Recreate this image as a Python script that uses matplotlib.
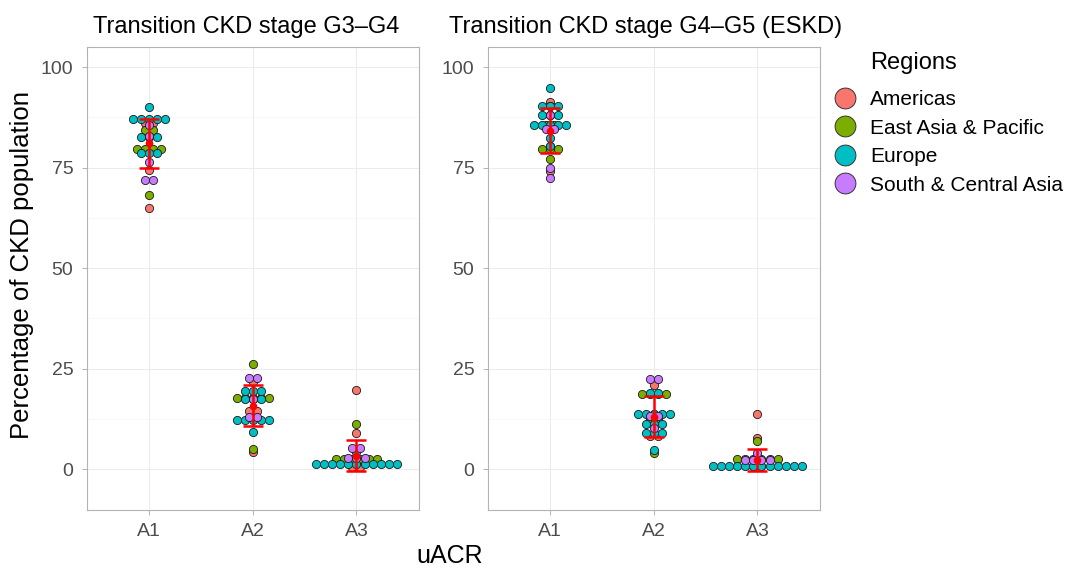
import numpy as np
import matplotlib
matplotlib.use("Agg")
import matplotlib.pyplot as plt
from matplotlib.lines import Line2D
from collections import Counter

plt.rcParams['font.family'] = ['Liberation Sans', 'DejaVu Sans']

# ---------------- data ----------------
regions = ["Americas", "East Asia & Pacific", "Europe", "South & Central Asia"]
region_colors = ["#F8766D", "#7CAE00", "#00BFC4", "#C77CFF"]
uacr = ["A1", "A2", "A3"]
panel_titles = ["Transition CKD stage G3\u2013G4", "Transition CKD stage G4\u2013G5 (ESKD)"]

# Panel 1: G3-G4 (values per uACR category A1, A2, A3)
g34_americas = [[86.0, 86.0, 74.3, 65.0],
                [21.7, 14.4, 14.4, 4.3],
                [19.7, 9.0, 0.4, 0.4]]
g34_eastasia = [[84.4, 84.4, 79.5, 79.5, 79.5, 79.5, 68.3],
                [26.1, 17.7, 17.7, 17.7, 17.7, 17.7, 5.1],
                [11.1, 2.4, 2.4, 2.4, 2.4, 2.4, 2.4]]
g34_europe = [[90.0, 87.1, 87.1, 87.1, 87.1, 87.1, 82.7, 82.7, 82.7, 78.7, 78.7, 78.7],
              [19.5, 19.5, 19.5, 17.4, 17.4, 17.4, 12.3, 12.3, 12.3, 12.3, 12.3, 9.1],
              [4.2, 1.2, 1.2, 1.2, 1.2, 1.2, 1.2, 1.2, 1.2, 1.2, 1.2, 1.2]]
g34_southasia = [[85.5, 82.9, 76.3, 72.0, 72.0],
                 [22.7, 22.7, 17.5, 13.0, 13.0],
                 [5.3, 5.3, 2.7, 2.7, 2.7]]
g34_mean = [81.0, 15.8, 3.3]
g34_sd = [6.0, 5.0, 3.85]

# Panel 2: G4-G5 (ESKD)
g45_americas = [[91.3, 88.0, 80.3, 74.2],
                [20.9, 13.8, 8.2, 8.2],
                [13.7, 7.8, 0.8, 0.8]]
g45_eastasia = [[90.2, 85.6, 85.6, 79.7, 79.7, 79.7, 77.1],
                [18.6, 18.6, 18.6, 18.6, 12.8, 12.8, 3.9],
                [7.0, 2.5, 2.5, 2.5, 2.5, 2.5, 2.5]]
g45_europe = [[94.8, 90.2, 90.2, 90.2, 88.0, 88.0, 88.0, 85.6, 85.6, 85.6, 85.6, 85.6, 82.3, 80.3],
              [18.8, 18.8, 13.8, 13.8, 13.8, 13.8, 13.8, 11.2, 11.2, 11.2, 8.9, 8.9, 8.9, 4.7],
              [0.8, 0.8, 0.8, 0.8, 0.8, 0.8, 0.8, 0.8, 0.8, 0.8, 0.8, 0.8]]
g45_southasia = [[88.0, 84.7, 84.7, 75.0, 72.4],
                 [22.4, 22.4, 13.3, 13.3, 10.1],
                 [3.9, 2.2, 2.2, 2.2, 2.2]]
g45_mean = [84.2, 13.0, 2.3]
g45_sd = [5.6, 5.1, 2.7]

panels = [
    (panel_titles[0], [g34_americas, g34_eastasia, g34_europe, g34_southasia], g34_mean, g34_sd),
    (panel_titles[1], [g45_americas, g45_eastasia, g45_europe, g45_southasia], g45_mean, g45_sd),
]

# ---------------- figure ----------------
W, H = 1065, 569
fig = plt.figure(figsize=(W / 100, H / 100), dpi=100)

ax_w = 332 / W
ax_h = 463 / H
ax_b = 1 - 510 / H
ax_lefts = [86.7 / W, 487.7 / W]
title_x = [93 / W, 449 / W]

STEP = 0.078  # horizontal dot spacing (x units)

for pi, (title, reg_data, means, sds) in enumerate(panels):
    ax = fig.add_axes([ax_lefts[pi], ax_b, ax_w, ax_h])
    xpos = np.arange(1, len(uacr) + 1)
    for ri, rdata in enumerate(reg_data):
        for gi, vals in enumerate(rdata):
            cnt = Counter(vals)
            xs, ys = [], []
            for v, n in cnt.items():
                for k in range(n):
                    xs.append(xpos[gi] + (k - (n - 1) / 2) * STEP)
                    ys.append(v)
            ax.scatter(xs, ys, s=35, facecolor=region_colors[ri], edgecolor="#1A1A1A",
                       linewidth=0.6, zorder=3 + ri * 0.01)
    ax.errorbar(xpos, means, yerr=sds, fmt="o", color="#FF0000", ecolor="#FF0000",
                elinewidth=1.8, capsize=7.5, capthick=1.8, markersize=4.5, zorder=10)

    ax.set_xlim(0.4, 3.6)
    ax.set_ylim(-10.2, 105)
    ax.set_xticks(xpos)
    ax.set_xticklabels(uacr)
    ax.set_yticks([0, 25, 50, 75, 100])
    ax.set_yticks([12.5, 37.5, 62.5, 87.5], minor=True)
    ax.tick_params(axis="both", which="major", labelsize=14, labelcolor="#4D4D4D",
                   color="#B3B3B3", length=3.6, width=0.7, pad=6)
    ax.tick_params(axis="both", which="minor", length=0)
    ax.grid(True, which="major", color="#EBEBEB", linewidth=0.7, zorder=0)
    ax.grid(True, which="minor", axis="y", color="#F4F4F4", linewidth=0.45, zorder=0)
    ax.set_axisbelow(True)
    for sp in ax.spines.values():
        sp.set_color("#B3B3B3")
        sp.set_linewidth(0.8)
    fig.text(title_x[pi], 1 - 33 / H, title, fontsize=17, ha="left", va="baseline", color="black")

fig.text(22 / W, 1 - 265 / H, "Percentage of CKD population", rotation=90,
         fontsize=18.5, ha="center", va="center", color="black")
fig.text(450 / W, 1 - 568 / H, "uACR", fontsize=18, ha="center", va="bottom", color="black")

# legend
fig.text(870 / W, 1 - 63 / H, "Regions", fontsize=17, ha="left", va="center", color="black")
handles = [Line2D([], [], marker="o", linestyle="", markersize=15,
                  markerfacecolor=c, markeredgecolor="#333333", markeredgewidth=0.7)
           for c in region_colors]
leg = fig.legend(handles, regions, loc="upper left",
                 bbox_to_anchor=(832.5 / W, 1 - 90 / H), frameon=False,
                 fontsize=15, handletextpad=0.6,
                 labelspacing=0.46, handlelength=1.2,
                 borderaxespad=0, borderpad=0)

fig.savefig("out.png", dpi=100, facecolor="white")
